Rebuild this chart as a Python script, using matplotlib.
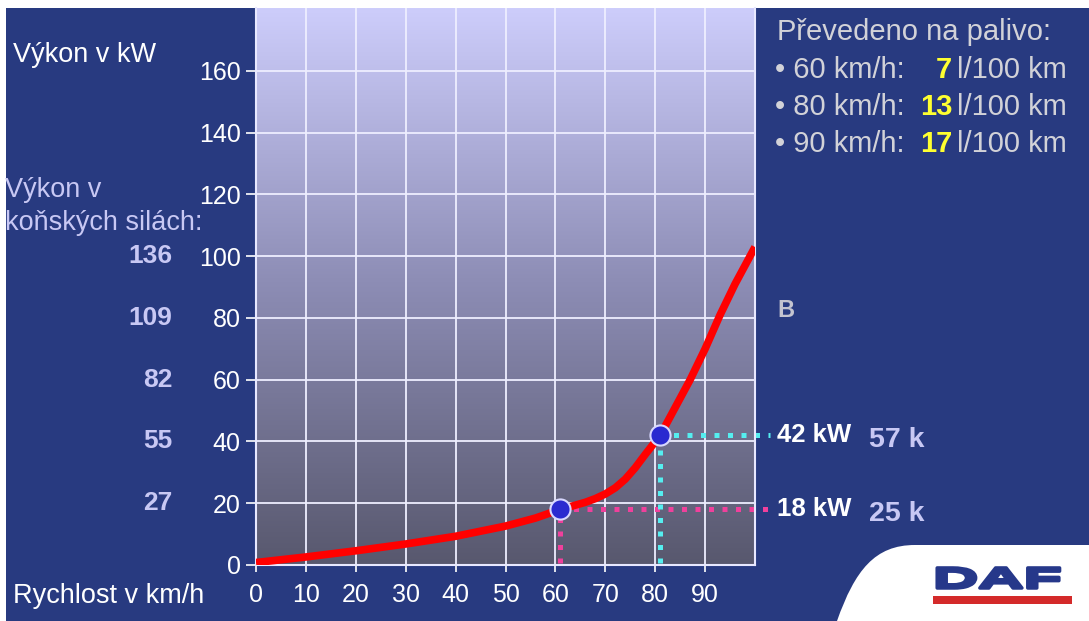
import numpy as np
import matplotlib
matplotlib.use('Agg')
import matplotlib.pyplot as plt
import matplotlib.patheffects as pe
from matplotlib.colors import LinearSegmentedColormap
from matplotlib.patches import Rectangle, PathPatch
from matplotlib.path import Path
from matplotlib.transforms import Affine2D, blended_transform_factory

plt.rcParams['font.family'] = ['Liberation Sans', 'DejaVu Sans']

# power needed vs speed
speed = [0, 10, 20, 30, 40, 50, 56, 61, 66, 68, 70, 72, 74, 76, 78, 81, 84, 87, 90, 93, 96, 100]
power_kw = [0.8, 2.6, 4.6, 6.8, 9.3, 12.6, 15.2, 18, 20.3, 21.5, 23, 25, 27.8, 31.5, 35.8, 42, 51, 60, 70, 81, 91, 103]

# highlighted operating points
marked_speed = [61, 81]
marked_kw = [18, 42]
marked_hp = [25, 57]
marked_colors = ['#f0409c', '#55eef0']

kw_ticks = [0, 20, 40, 60, 80, 100, 120, 140, 160]
hp_at_kw = [20, 40, 60, 80, 100]
hp_labels = ['27', '55', '82', '109', '136']
speed_ticks = [0, 10, 20, 30, 40, 50, 60, 70, 80, 90]

fuel_speed = ['60', '80', '90']
fuel_litres = ['7', '13', '17']

NAVY = '#283a80'
LAVENDER = '#c8c8f4'
GREY = '#d2d2d8'
W, H = 1089, 621


class WideStroke(pe.Stroke):
    """Stroke that also stretches the glyphs sideways around x0 (display px)."""

    def __init__(self, sx, x0, **kw):
        super().__init__(**kw)
        self.sx = sx
        self.x0 = x0

    def draw_path(self, renderer, gc, tpath, affine, rgbFace):
        wide = Affine2D().translate(-self.x0, 0).scale(self.sx, 1).translate(self.x0, 0)
        super().draw_path(renderer, gc, tpath, affine + wide, rgbFace)


fig = plt.figure(figsize=(W / 100, H / 100), dpi=100, facecolor=NAVY)

# full-figure layer in pixel coordinates for the slide decorations
bg = fig.add_axes([0, 0, 1, 1], zorder=0)
bg.set_xlim(0, W)
bg.set_ylim(H, 0)
bg.axis('off')
bg.add_patch(Rectangle((0, 0), W, 8, color='white', lw=0))
bg.add_patch(Rectangle((0, 0), 6, H, color='white', lw=0))

# plot area
ax = fig.add_axes([256 / W, 56 / H, 499 / W, 557 / H], zorder=1)
ymax = 180.4
cmap = LinearSegmentedColormap.from_list('bgfade', ['#58586e', '#8c8cb4', '#cdcdfb'])
ax.imshow(np.linspace(1, 0, 256).reshape(-1, 1), extent=[0, 100, 0, ymax],
          aspect='auto', cmap=cmap, zorder=0)
ax.set_xlim(0, 100)
ax.set_ylim(0, ymax)
ax.set_xticks(speed_ticks)
ax.set_yticks(kw_ticks)
ax.grid(color='#eeeeff', lw=1.3)
ax.tick_params(axis='y', colors='white', length=7, width=1.2, pad=4, labelsize=18)
ax.tick_params(axis='x', colors='white', length=5, width=1.2, pad=8, labelsize=18)
for s in ['left', 'bottom', 'right']:
    ax.spines[s].set_color('#e8e8ff')
    ax.spines[s].set_linewidth(1.5)
ax.spines['top'].set_visible(False)

for sx, kw, c in zip(marked_speed, marked_kw, marked_colors):
    ax.plot([sx, 103], [kw, kw], color=c, lw=3.6, ls=(0, (1, 1.7)), clip_on=False, zorder=2)
    ax.plot([sx, sx], [0.8, kw], color=c, lw=3.6, ls=(0, (1, 1.7)), zorder=2)

ax.plot(speed, power_kw, color='#ff0000', lw=5.5, solid_capstyle='butt',
        solid_joinstyle='round', zorder=3)
ax.plot(marked_speed, marked_kw, 'o', ms=14.5, mfc='#2a2ad0', mec='#d8d8ff', mew=1.5, zorder=4)

# labels on the left
mix = blended_transform_factory(bg.transData, ax.transData)
bg.text(13, 62, 'Výkon v kW', color='white', fontsize=19.5, va='baseline')
bg.text(5, 197, 'Výkon v', color=LAVENDER, fontsize=19.5, va='baseline')
bg.text(5, 230, 'koňských silách:', color=LAVENDER, fontsize=19.5, va='baseline')
for kw, hp in zip(hp_at_kw, hp_labels):
    ax.text(172, kw, hp, transform=mix, color=LAVENDER, fontsize=19,
            fontweight='bold', ha='right', va='center')
bg.text(13, 603, 'Rychlost v km/h', color='white', fontsize=19.5, va='baseline')

# values at the operating points
for kw, hp in zip(marked_kw, marked_hp):
    ax.text(777, kw, f'{kw} kW', transform=mix, color='white', fontsize=18.5,
            fontweight='bold', va='center')
    ax.text(869, kw - 1.5, f'{hp} k', transform=mix, color=LAVENDER, fontsize=20.5,
            fontweight='bold', va='center')

# fuel consumption block
bg.text(777, 40, 'Převedeno na palivo:', color=GREY, fontsize=21, va='baseline')
for i, (sp, lt) in enumerate(zip(fuel_speed, fuel_litres)):
    yb = 78 + i * 37
    bg.text(775, yb, f'• {sp} km/h:', color=GREY, fontsize=21, va='baseline')
    bg.text(952, yb, lt, color='#ffff30', fontsize=21, fontweight='bold',
            ha='right', va='baseline')
    bg.text(957, yb, 'l/100 km', color=GREY, fontsize=21, va='baseline')

bg.text(777, 317, 'B', color='#c4c4d0', fontsize=17, fontweight='bold', va='baseline')

# logo corner
logo = Path([(837, H), (855, 570), (875, 545), (915, 545), (W, 545), (W, H), (837, H)],
            [Path.MOVETO, Path.CURVE4, Path.CURVE4, Path.CURVE4,
             Path.LINETO, Path.LINETO, Path.CLOSEPOLY])
bg.add_patch(PathPatch(logo, facecolor='white', edgecolor='none'))
bg.text(933, 588, 'DAF', color='#26388a', fontsize=21, fontweight='bold',
        ha='left', va='baseline',
        path_effects=[WideStroke(2.15, 933, linewidth=2.5, foreground='#26388a')])
bg.add_patch(Rectangle((933, 596), 139, 8, color='#d42a2a', lw=0))

fig.savefig('out.png', dpi=100, facecolor=NAVY)
